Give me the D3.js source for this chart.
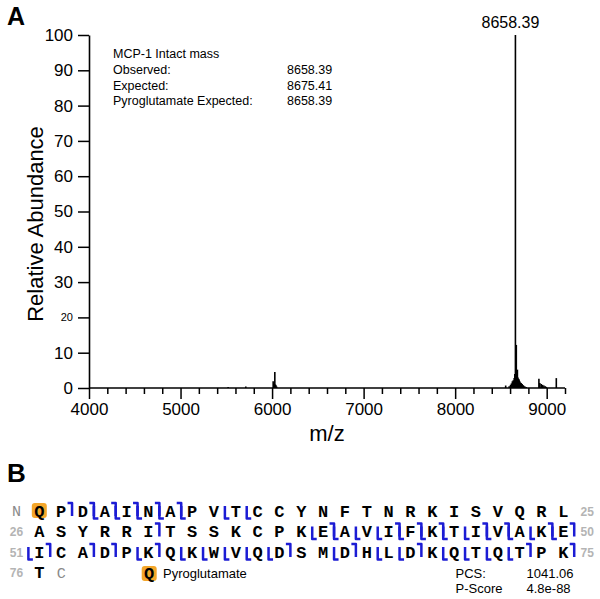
<!DOCTYPE html>
<html>
<head>
<meta charset="utf-8">
<script src="https://cdn.jsdelivr.net/npm/d3@7"></script>
<style>
  html, body { margin: 0; padding: 0; background: #fff; }
  svg { display: block; }
</style>
</head>
<body>
<svg id="chart" width="600" height="599"></svg>
<script>
// ---------- DATA ----------
// Spectrum sticks (m/z, relative abundance)
const peakMz = [5520, 5713, 6012, 6020, 6030, 6036, 6042, 6050,
  8552, 8590, 8605, 8615, 8625, 8635, 8645, 8652, 8658.39, 8664, 8668, 8674, 8680, 8686,
  8692, 8698, 8704, 8712, 8722, 8732, 8745, 8760, 8775,
  8915, 8925, 8940, 8955, 8970, 8985, 8996, 9105];
const peakInt = [0.3, 0.4, 1.9, 1.2, 4.5, 1.0, 0.8, 0.4,
  0.7, 0.5, 0.9, 1.3, 1.9, 2.2, 2.8, 4.0, 100, 5.0, 12.2, 3.5, 5.2, 3.0,
  2.6, 2.4, 2.0, 1.6, 1.4, 1.1, 0.8, 0.5, 0.3,
  2.6, 1.4, 1.1, 0.9, 0.7, 0.5, 0.3, 2.8];
const xMajorTicks = [4000, 5000, 6000, 7000, 8000, 9000];
const yTicks = [0, 10, 20, 30, 40, 50, 60, 70, 80, 90, 100];
const infoLabels = ["Observed:", "Expected:", "Pyroglutamate Expected:"];
const infoValues = ["8658.39", "8675.41", "8658.39"];
const infoTitle = "MCP-1 Intact mass";

// Sequence panel
const seqRows = ["QPDAINAPVTCCYNFTNRKISVQRL", "ASYRRITSSKCPKEAVIFKTIVAKE", "ICADPKQKWVQDSMDHLDKQTQTPK", "T"];
const rowStart = [1, 26, 51, 76];
const leftLabels = ["N", "26", "51", "76"];
const rightLabels = ["25", "50", "75", "C"];
// N-terminal fragment sites (top hook) and C-terminal fragment sites (bottom hook): cleavage after residue n
const cSites = [2, 3, 4, 5, 6, 7, 31, 39, 42, 43, 44, 46, 47, 49, 50, 51, 53, 54, 56, 62, 65, 68, 73, 75];
const zSites = [3, 4, 5, 6, 7, 9, 10, 38, 39, 40, 41, 42, 43, 44, 45, 46, 47, 48, 49, 50, 55, 57, 58, 59, 60, 61, 64, 66, 67, 69, 70, 71, 72];
const modResidues = [1];
const legendText = "Pyroglutamate";
const scoreLabels = ["PCS:", "P-Score"];
const scoreValues = ["1041.06", "4.8e-88"];

// ---------- DRAW ----------
const svg = d3.select("#chart");
const sans = "'Liberation Sans', Arial, sans-serif";
const mono = "'Liberation Mono', 'Courier New', monospace";

const x = d3.scaleLinear().domain([4000, 9200]).range([89, 565]);
const y = d3.scaleLinear().domain([0, 100]).range([388, 35]);

// Panel letters
svg.append("text").attr("x", 7).attr("y", 25).text("A")
  .attr("font-family", sans).attr("font-weight", "bold").attr("font-size", 25);
svg.append("text").attr("x", 7).attr("y", 482).text("B")
  .attr("font-family", sans).attr("font-weight", "bold").attr("font-size", 26);

// Spectrum sticks
svg.append("g").selectAll("line").data(peakMz.map((m, i) => [m, peakInt[i]]))
  .join("line")
  .attr("x1", d => x(d[0])).attr("x2", d => x(d[0]))
  .attr("y1", y(0)).attr("y2", d => y(d[1]))
  .attr("stroke", "#000").attr("stroke-width", 1.6);

// X axis - minor ticks
const minor = d3.range(4000, 9201, 200).filter(v => v % 1000 !== 0);
const gxMinor = svg.append("g").attr("transform", `translate(0,${y(0)})`)
  .call(d3.axisBottom(x).tickValues(minor).tickSize(6).tickFormat(""));
const gx = svg.append("g").attr("transform", `translate(0,${y(0)})`)
  .call(d3.axisBottom(x).tickValues(xMajorTicks).tickSize(11).tickSizeOuter(0).tickPadding(4).tickFormat(d3.format("d")));
gx.selectAll("text").attr("font-family", sans).attr("font-size", 17).attr("fill", "#000");
gxMinor.select(".domain").remove();
[gx, gxMinor].forEach(g => {
  g.selectAll("line").attr("stroke", "#000").attr("stroke-width", 1.5);
  g.selectAll(".domain").attr("stroke", "#000").attr("stroke-width", 1.6);
});
gx.select(".domain").attr("d", `M${x(4000)},0H${x(9200)}`);

// Y axis
const gy = svg.append("g").attr("transform", `translate(${x(4000)},0)`)
  .call(d3.axisLeft(y).tickValues(yTicks).tickSize(11).tickSizeOuter(0).tickPadding(5));
gy.selectAll("text").attr("font-family", sans).attr("fill", "#000")
  .attr("font-size", d => d === 20 ? 11 : 17);
gy.selectAll("line").attr("stroke", "#000").attr("stroke-width", 1.5);
gy.select(".domain").attr("stroke", "#000").attr("stroke-width", 1.6);

// Axis titles
svg.append("text").attr("x", x(6600)).attr("y", 441).attr("text-anchor", "middle")
  .attr("font-family", sans).attr("font-size", 22).text("m/z");
svg.append("text").attr("transform", "translate(43,224) rotate(-90)").attr("text-anchor", "middle")
  .attr("font-family", sans).attr("font-size", 22).text("Relative Abundance");

// Peak label
const maxIdx = d3.maxIndex(peakInt);
svg.append("text").attr("x", x(peakMz[maxIdx]) - 5).attr("y", 28).attr("text-anchor", "middle")
  .attr("font-family", sans).attr("font-size", 16).text(d3.format(".2f")(peakMz[maxIdx]));

// Info block
const info = svg.append("g").attr("font-family", sans).attr("font-size", 12.5);
info.append("text").attr("x", 113).attr("y", 58).text(infoTitle);
infoLabels.forEach((t, i) => {
  info.append("text").attr("x", 113).attr("y", 74 + i * 15.5).text(t);
  info.append("text").attr("x", 287).attr("y", 74 + i * 15.5).text(infoValues[i]);
});

// ---------- Sequence panel ----------
const col = d3.scaleLinear().domain([0, 24]).range([39.3, 563.3]);
const rowY = d3.scaleLinear().domain([0, 3]).range([511, 572.5]);
const step = col(1) - col(0);
const seqG = svg.append("g");

function locate(n) { // residue number -> [row, colIndex]
  let r = 0;
  while (r + 1 < rowStart.length && n >= rowStart[r + 1]) r++;
  return [r, n - rowStart[r]];
}

// modification highlight
modResidues.forEach(n => {
  const [r, c] = locate(n);
  seqG.append("rect").attr("x", col(c) - 7.5).attr("y", rowY(r) - 8).attr("width", 15).attr("height", 15)
    .attr("rx", 3).attr("fill", "#f4a62a");
});

seqRows.forEach((s, r) => {
  s.split("").forEach((ch, c) => {
    seqG.append("text").attr("x", col(c)).attr("y", rowY(r) + 5.5).attr("text-anchor", "middle")
      .attr("font-family", mono).attr("font-weight", "bold").attr("font-size", 17).text(ch);
  });
  const isLetterL = /^[A-Z]$/.test(leftLabels[r]);
  seqG.append("text").attr("x", col(-1) - 1).attr("y", rowY(r) + (isLetterL ? 5 : 4.5)).attr("text-anchor", "middle")
    .attr("font-family", isLetterL ? mono : sans).attr("font-weight", isLetterL ? "normal" : "bold")
    .attr("font-size", isLetterL ? 15 : 12).attr("fill", isLetterL ? "#8a8a8a" : "#b4b4b4").text(leftLabels[r]);
  const isLetterR = /^[A-Z]$/.test(rightLabels[r]);
  seqG.append("text").attr("x", col(s.length) + (isLetterR ? 0 : 2)).attr("y", rowY(r) + (isLetterR ? 5 : 4.5)).attr("text-anchor", "middle")
    .attr("font-family", isLetterR ? mono : sans).attr("font-weight", isLetterR ? "normal" : "bold")
    .attr("font-size", isLetterR ? 15 : 12).attr("fill", isLetterR ? "#8a8a8a" : "#b4b4b4").text(rightLabels[r]);
});

// fragment markers
const blue = "#1c1cd4";
const markG = seqG.append("g").attr("fill", "none").attr("stroke", blue).attr("stroke-width", 2.5)
  .attr("stroke-linecap", "butt").attr("stroke-linejoin", "round");
cSites.forEach(n => {
  const [r, c] = locate(n); // shown right after residue n in its row
  const mx = col(c) + step / 2, top = rowY(r) - 8, bot = rowY(r) + 8;
  markG.append("path").attr("d", `M${mx - 4.5},${top}H${mx}V${bot - 3}`);
});
zSites.forEach(n => {
  const [r, c] = locate(n + 1); // shown just before residue n+1 in its row
  const mx = col(c) - step / 2, top = rowY(r) - 5, bot = rowY(r) + 7.5;
  markG.append("path").attr("d", `M${mx},${top}V${bot}H${mx + 4.5}`);
});

// legend
const legX = 149.2, legY = 573.5;
seqG.append("rect").attr("x", legX - 7.5).attr("y", legY - 7.5).attr("width", 15).attr("height", 15)
  .attr("rx", 3).attr("fill", "#f4a62a");
seqG.append("text").attr("x", legX).attr("y", legY + 5.5).attr("text-anchor", "middle")
  .attr("font-family", mono).attr("font-weight", "bold").attr("font-size", 17).text("Q");
seqG.append("text").attr("x", 163).attr("y", legY + 4.5)
  .attr("font-family", sans).attr("font-size", 13).text(legendText);

// scores
scoreLabels.forEach((t, i) => {
  seqG.append("text").attr("x", 455.5).attr("y", 577.5 + i * 15.5).attr("font-family", sans).attr("font-size", 13).text(t);
  seqG.append("text").attr("x", 526.5).attr("y", 577.5 + i * 15.5).attr("font-family", sans).attr("font-size", 13).text(scoreValues[i]);
});
</script>
</body>
</html>
